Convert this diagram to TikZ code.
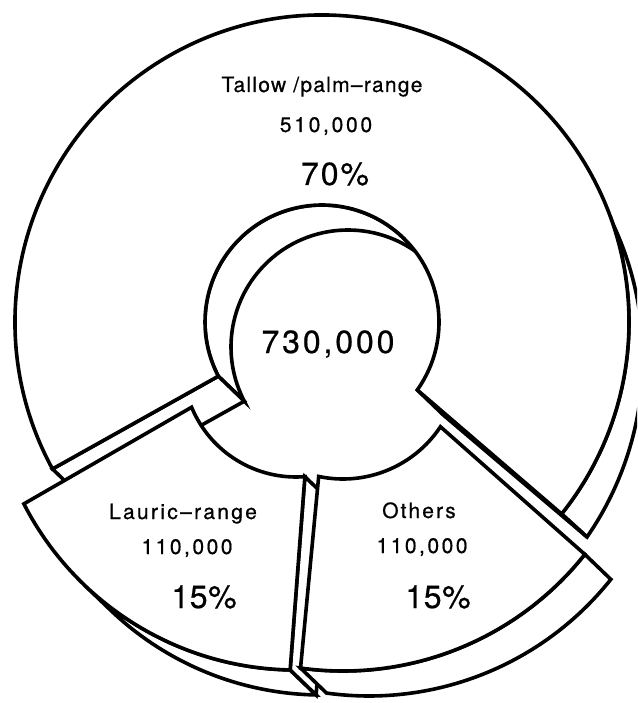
\documentclass[tikz,border=0pt]{standalone}
\usepackage{fontspec}
\setmainfont{TeX Gyre Heros}
\newfontfamily\labelfont[FakeBold=0.6]{TeX Gyre Heros}
\usetikzlibrary{calc}
\tikzset{
  piece/.style={fill=white, draw=black, line width=3.6pt},
  smalltxt/.style={font=\labelfont\fontsize{21}{25}\selectfont, anchor=base, inner sep=0pt},
  bigtxt/.style={font=\labelfont\fontsize{32}{38}\selectfont, anchor=base, inner sep=0pt},
}
\begin{document}
\begin{tikzpicture}[x=1pt, y=1pt, yscale=-1]
\useasboundingbox (0,0) rectangle (637,703);
\fill[white] (0,0) rectangle (637,703);
\clip (0,0) rectangle (637,703);

% ---- side walls (depth offset 26,25), painted back to front ----
% Tallow/palm-range: outer rim (its rear edge drawn on a wider circle)
\path[piece] ($(322,322)+(340:307)$) arc[start angle=340, end angle=398.7, radius=307]
  -- (587,537) arc[start angle=394.65, end angle=333.4, radius=315] -- cycle;
% inner rim seen through the hole
\path[piece] ($(322,322)+(152.4:117)$) arc[start angle=152.4, end angle=313.9, radius=117]
  -- ++(26,25) arc[start angle=313.9, end angle=152.4, radius=117] -- cycle;
% cut faces at both ends
\path[piece] ($(322,322)+(151.4:307)$) -- ($(322,322)+(152.4:117)$) -- ++(26,25)
  -- ($(348,347)+(151.4:307)$) -- cycle;
\path[piece] ($(322,322)+(398.7:307)$) -- ($(322,322)+(395.5:117)$) -- ++(26,25)
  -- (587,537) -- cycle;
% Lauric-range: outer rim and right cut face
\path[piece] ($(296,364)+(91.1:306)$) arc[start angle=91.1, end angle=133.9, radius=306]
  -- ++(26,25) arc[start angle=133.9, end angle=91.1, radius=306] -- cycle;
\path[piece] ($(296,364)+(91.1:306)$) -- ($(296,364)+(85.5:113)$) -- ++(26,25)
  -- ($(322,389)+(91.1:306)$) -- cycle;
% Others: outer rim
\path[piece] ($(343,362)+(38.5:309)$) arc[start angle=38.5, end angle=97.9, radius=309]
  -- ++(26,25) arc[start angle=97.9, end angle=38.5, radius=309] -- cycle;

% ---- front faces ----
\path[piece] ($(322,322)+(151.4:307)$) arc[start angle=151.4, end angle=398.7, radius=307]
  -- ($(322,322)+(395.5:117)$) arc[start angle=395.5, end angle=152.4, radius=117] -- cycle;
\path[piece] ($(296,364)+(91.1:306)$) arc[start angle=91.1, end angle=152.8, radius=306]
  -- ($(296,364)+(157.5:113)$) arc[start angle=157.5, end angle=85.5, radius=113] -- cycle;
\path[piece] ($(343,362)+(38.5:309)$) arc[start angle=38.5, end angle=97.9, radius=309]
  -- ($(343,362)+(102:117)$) arc[start angle=102, end angle=33.6, radius=117] -- cycle;

% ---- labels ----
\node[smalltxt] (tname) at (322,92) {\addfontfeatures{LetterSpace=6}Tallow /palm–range};
\node[smalltxt] (tval)  at (326,132) {\addfontfeatures{LetterSpace=13}510,000};
\node[bigtxt]   (tpct)  at (335,185) {\addfontfeatures{LetterSpace=6}70\%};
\node[bigtxt]   (total) at (328,353) {\addfontfeatures{LetterSpace=9}730,000};
\node[smalltxt] (lname) at (183,519) {\addfontfeatures{LetterSpace=11}Lauric–range};
\node[smalltxt] (lval)  at (187,554) {\addfontfeatures{LetterSpace=12}110,000};
\node[bigtxt]   (lpct)  at (204,608) {\addfontfeatures{LetterSpace=2}15\%};
\node[smalltxt] (oname) at (419,518) {\addfontfeatures{LetterSpace=10}Others};
\node[smalltxt] (oval)  at (422,553) {\addfontfeatures{LetterSpace=12}110,000};
\node[bigtxt]   (opct)  at (438,608) {\addfontfeatures{LetterSpace=2}15\%};
\end{tikzpicture}
\end{document}
